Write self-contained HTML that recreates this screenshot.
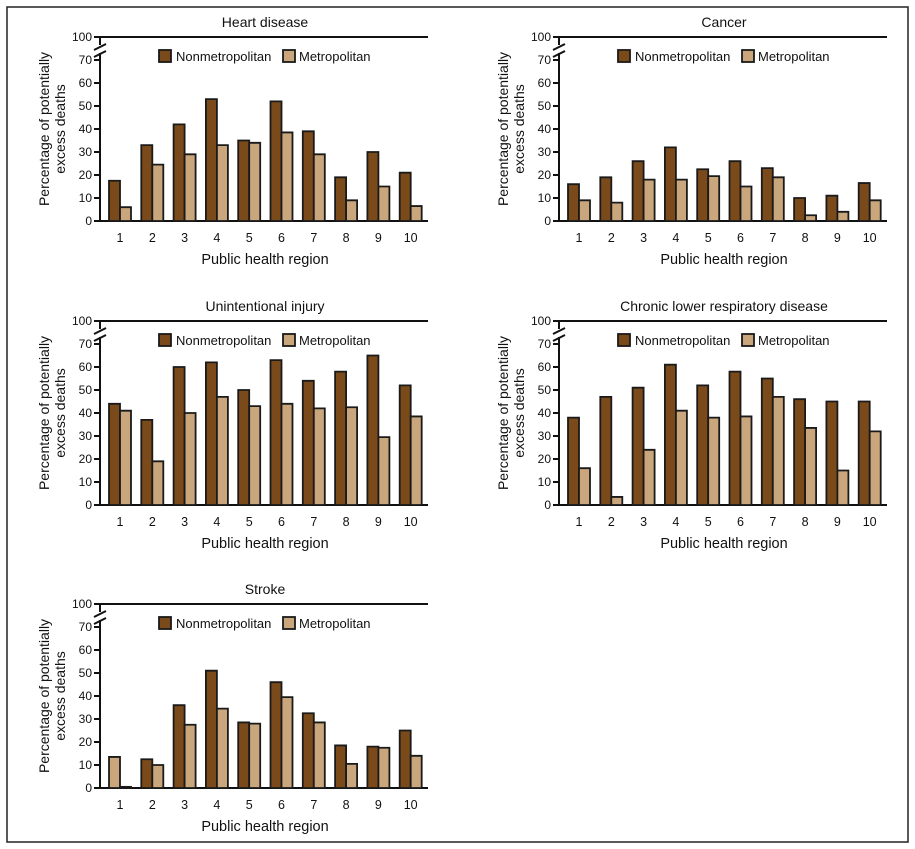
<!DOCTYPE html>
<html><head><meta charset="utf-8"><style>
html,body{margin:0;padding:0;background:#fff;}
svg{display:block;font-family:"Liberation Sans",sans-serif;}
.t{font-size:14px;fill:#111;text-anchor:middle;}
.xt{font-size:14.5px;fill:#111;text-anchor:middle;}
.yt{font-size:14px;fill:#111;text-anchor:middle;}
.tk{font-size:12px;fill:#111;text-anchor:end;}
.xl{font-size:12.5px;fill:#111;text-anchor:middle;}
.lg{font-size:13px;fill:#111;}
.ax{stroke:#111;stroke-width:2;fill:none;}
.n{fill:#7b4a1a;stroke:#1a1a1a;stroke-width:1.8;}
.m{fill:#c9a67c;stroke:#1a1a1a;stroke-width:1.8;}
</style></head><body>
<svg width="915" height="849" viewBox="0 0 915 849" xmlns="http://www.w3.org/2000/svg">
<defs>
<g id="frame">
<line class="ax" x1="100" y1="221" x2="100" y2="53"/>
<line class="ax" x1="100" y1="45" x2="100" y2="37"/>
<line class="ax" x1="94" y1="50" x2="106" y2="44" stroke-width="1.3"/>
<line class="ax" x1="94" y1="57" x2="106" y2="51" stroke-width="1.3"/>
<line class="ax" x1="99" y1="37" x2="428" y2="37"/>
<line class="ax" x1="99" y1="221" x2="428" y2="221"/>
<g class="ax">
<line x1="94" y1="221" x2="100" y2="221"/><line x1="94" y1="198" x2="100" y2="198"/><line x1="94" y1="175" x2="100" y2="175"/><line x1="94" y1="152" x2="100" y2="152"/><line x1="94" y1="129" x2="100" y2="129"/><line x1="94" y1="106" x2="100" y2="106"/><line x1="94" y1="83" x2="100" y2="83"/><line x1="94" y1="60" x2="100" y2="60"/><line x1="94" y1="37" x2="100" y2="37"/>
</g>
<text class="tk" x="92" y="225">0</text><text class="tk" x="92" y="202">10</text><text class="tk" x="92" y="179">20</text><text class="tk" x="92" y="156">30</text><text class="tk" x="92" y="133">40</text><text class="tk" x="92" y="110">50</text><text class="tk" x="92" y="87">60</text><text class="tk" x="92" y="64">70</text><text class="tk" x="92" y="41">100</text>
<text class="xl" x="120" y="242">1</text><text class="xl" x="152.3" y="242">2</text><text class="xl" x="184.6" y="242">3</text><text class="xl" x="216.9" y="242">4</text><text class="xl" x="249.2" y="242">5</text><text class="xl" x="281.5" y="242">6</text><text class="xl" x="313.8" y="242">7</text><text class="xl" x="346.1" y="242">8</text><text class="xl" x="378.4" y="242">9</text><text class="xl" x="410.7" y="242">10</text>
<text class="xt" x="265" y="264">Public health region</text>
<text class="yt" transform="translate(49,129) rotate(-90)">Percentage of potentially</text>
<text class="yt" transform="translate(65,129) rotate(-90)">excess deaths</text>
<rect class="n" x="159" y="50" width="12" height="12"/>
<text class="lg" x="176" y="61">Nonmetropolitan</text>
<rect class="m" x="283" y="50" width="12" height="12"/>
<text class="lg" x="299" y="61">Metropolitan</text>
</g>
</defs>

<rect x="7" y="7" width="901" height="835" fill="none" stroke="#222" stroke-width="1.5"/>

<g>
<use href="#frame"/>
<text class="t" x="265" y="27">Heart disease</text>
<g transform="translate(0,221) scale(1,-2.3)">
<rect class="n" vector-effect="non-scaling-stroke" x="109" y="0" width="11" height="17.5"/><rect class="m" vector-effect="non-scaling-stroke" x="120" y="0" width="11" height="6"/>
<rect class="n" vector-effect="non-scaling-stroke" x="141.3" y="0" width="11" height="33"/><rect class="m" vector-effect="non-scaling-stroke" x="152.3" y="0" width="11" height="24.5"/>
<rect class="n" vector-effect="non-scaling-stroke" x="173.6" y="0" width="11" height="42"/><rect class="m" vector-effect="non-scaling-stroke" x="184.6" y="0" width="11" height="29"/>
<rect class="n" vector-effect="non-scaling-stroke" x="205.9" y="0" width="11" height="53"/><rect class="m" vector-effect="non-scaling-stroke" x="216.9" y="0" width="11" height="33"/>
<rect class="n" vector-effect="non-scaling-stroke" x="238.2" y="0" width="11" height="35"/><rect class="m" vector-effect="non-scaling-stroke" x="249.2" y="0" width="11" height="34"/>
<rect class="n" vector-effect="non-scaling-stroke" x="270.5" y="0" width="11" height="52"/><rect class="m" vector-effect="non-scaling-stroke" x="281.5" y="0" width="11" height="38.5"/>
<rect class="n" vector-effect="non-scaling-stroke" x="302.8" y="0" width="11" height="39"/><rect class="m" vector-effect="non-scaling-stroke" x="313.8" y="0" width="11" height="29"/>
<rect class="n" vector-effect="non-scaling-stroke" x="335.1" y="0" width="11" height="19"/><rect class="m" vector-effect="non-scaling-stroke" x="346.1" y="0" width="11" height="9"/>
<rect class="n" vector-effect="non-scaling-stroke" x="367.4" y="0" width="11" height="30"/><rect class="m" vector-effect="non-scaling-stroke" x="378.4" y="0" width="11" height="15"/>
<rect class="n" vector-effect="non-scaling-stroke" x="399.7" y="0" width="11" height="21"/><rect class="m" vector-effect="non-scaling-stroke" x="410.7" y="0" width="11" height="6.5"/>
</g>
</g>

<g transform="translate(459,0)">
<use href="#frame"/>
<text class="t" x="265" y="27">Cancer</text>
<g transform="translate(0,221) scale(1,-2.3)">
<rect class="n" vector-effect="non-scaling-stroke" x="109" y="0" width="11" height="16"/><rect class="m" vector-effect="non-scaling-stroke" x="120" y="0" width="11" height="9"/>
<rect class="n" vector-effect="non-scaling-stroke" x="141.3" y="0" width="11" height="19"/><rect class="m" vector-effect="non-scaling-stroke" x="152.3" y="0" width="11" height="8"/>
<rect class="n" vector-effect="non-scaling-stroke" x="173.6" y="0" width="11" height="26"/><rect class="m" vector-effect="non-scaling-stroke" x="184.6" y="0" width="11" height="18"/>
<rect class="n" vector-effect="non-scaling-stroke" x="205.9" y="0" width="11" height="32"/><rect class="m" vector-effect="non-scaling-stroke" x="216.9" y="0" width="11" height="18"/>
<rect class="n" vector-effect="non-scaling-stroke" x="238.2" y="0" width="11" height="22.5"/><rect class="m" vector-effect="non-scaling-stroke" x="249.2" y="0" width="11" height="19.5"/>
<rect class="n" vector-effect="non-scaling-stroke" x="270.5" y="0" width="11" height="26"/><rect class="m" vector-effect="non-scaling-stroke" x="281.5" y="0" width="11" height="15"/>
<rect class="n" vector-effect="non-scaling-stroke" x="302.8" y="0" width="11" height="23"/><rect class="m" vector-effect="non-scaling-stroke" x="313.8" y="0" width="11" height="19"/>
<rect class="n" vector-effect="non-scaling-stroke" x="335.1" y="0" width="11" height="10"/><rect class="m" vector-effect="non-scaling-stroke" x="346.1" y="0" width="11" height="2.5"/>
<rect class="n" vector-effect="non-scaling-stroke" x="367.4" y="0" width="11" height="11"/><rect class="m" vector-effect="non-scaling-stroke" x="378.4" y="0" width="11" height="4"/>
<rect class="n" vector-effect="non-scaling-stroke" x="399.7" y="0" width="11" height="16.5"/><rect class="m" vector-effect="non-scaling-stroke" x="410.7" y="0" width="11" height="9"/>
</g>
</g>

<g transform="translate(0,284)">
<use href="#frame"/>
<text class="t" x="265" y="27">Unintentional injury</text>
<g transform="translate(0,221) scale(1,-2.3)">
<rect class="n" vector-effect="non-scaling-stroke" x="109" y="0" width="11" height="44"/><rect class="m" vector-effect="non-scaling-stroke" x="120" y="0" width="11" height="41"/>
<rect class="n" vector-effect="non-scaling-stroke" x="141.3" y="0" width="11" height="37"/><rect class="m" vector-effect="non-scaling-stroke" x="152.3" y="0" width="11" height="19"/>
<rect class="n" vector-effect="non-scaling-stroke" x="173.6" y="0" width="11" height="60"/><rect class="m" vector-effect="non-scaling-stroke" x="184.6" y="0" width="11" height="40"/>
<rect class="n" vector-effect="non-scaling-stroke" x="205.9" y="0" width="11" height="62"/><rect class="m" vector-effect="non-scaling-stroke" x="216.9" y="0" width="11" height="47"/>
<rect class="n" vector-effect="non-scaling-stroke" x="238.2" y="0" width="11" height="50"/><rect class="m" vector-effect="non-scaling-stroke" x="249.2" y="0" width="11" height="43"/>
<rect class="n" vector-effect="non-scaling-stroke" x="270.5" y="0" width="11" height="63"/><rect class="m" vector-effect="non-scaling-stroke" x="281.5" y="0" width="11" height="44"/>
<rect class="n" vector-effect="non-scaling-stroke" x="302.8" y="0" width="11" height="54"/><rect class="m" vector-effect="non-scaling-stroke" x="313.8" y="0" width="11" height="42"/>
<rect class="n" vector-effect="non-scaling-stroke" x="335.1" y="0" width="11" height="58"/><rect class="m" vector-effect="non-scaling-stroke" x="346.1" y="0" width="11" height="42.5"/>
<rect class="n" vector-effect="non-scaling-stroke" x="367.4" y="0" width="11" height="65"/><rect class="m" vector-effect="non-scaling-stroke" x="378.4" y="0" width="11" height="29.5"/>
<rect class="n" vector-effect="non-scaling-stroke" x="399.7" y="0" width="11" height="52"/><rect class="m" vector-effect="non-scaling-stroke" x="410.7" y="0" width="11" height="38.5"/>
</g>
</g>

<g transform="translate(459,284)">
<use href="#frame"/>
<text class="t" x="265" y="27">Chronic lower respiratory disease</text>
<g transform="translate(0,221) scale(1,-2.3)">
<rect class="n" vector-effect="non-scaling-stroke" x="109" y="0" width="11" height="38"/><rect class="m" vector-effect="non-scaling-stroke" x="120" y="0" width="11" height="16"/>
<rect class="n" vector-effect="non-scaling-stroke" x="141.3" y="0" width="11" height="47"/><rect class="m" vector-effect="non-scaling-stroke" x="152.3" y="0" width="11" height="3.5"/>
<rect class="n" vector-effect="non-scaling-stroke" x="173.6" y="0" width="11" height="51"/><rect class="m" vector-effect="non-scaling-stroke" x="184.6" y="0" width="11" height="24"/>
<rect class="n" vector-effect="non-scaling-stroke" x="205.9" y="0" width="11" height="61"/><rect class="m" vector-effect="non-scaling-stroke" x="216.9" y="0" width="11" height="41"/>
<rect class="n" vector-effect="non-scaling-stroke" x="238.2" y="0" width="11" height="52"/><rect class="m" vector-effect="non-scaling-stroke" x="249.2" y="0" width="11" height="38"/>
<rect class="n" vector-effect="non-scaling-stroke" x="270.5" y="0" width="11" height="58"/><rect class="m" vector-effect="non-scaling-stroke" x="281.5" y="0" width="11" height="38.5"/>
<rect class="n" vector-effect="non-scaling-stroke" x="302.8" y="0" width="11" height="55"/><rect class="m" vector-effect="non-scaling-stroke" x="313.8" y="0" width="11" height="47"/>
<rect class="n" vector-effect="non-scaling-stroke" x="335.1" y="0" width="11" height="46"/><rect class="m" vector-effect="non-scaling-stroke" x="346.1" y="0" width="11" height="33.5"/>
<rect class="n" vector-effect="non-scaling-stroke" x="367.4" y="0" width="11" height="45"/><rect class="m" vector-effect="non-scaling-stroke" x="378.4" y="0" width="11" height="15"/>
<rect class="n" vector-effect="non-scaling-stroke" x="399.7" y="0" width="11" height="45"/><rect class="m" vector-effect="non-scaling-stroke" x="410.7" y="0" width="11" height="32"/>
</g>
</g>

<g transform="translate(0,567)">
<use href="#frame"/>
<text class="t" x="265" y="27">Stroke</text>
<g transform="translate(0,221) scale(1,-2.3)">
<rect class="m" vector-effect="non-scaling-stroke" x="109" y="0" width="11" height="13.5"/><rect class="m" vector-effect="non-scaling-stroke" x="120" y="0" width="11" height="0.5"/>
<rect class="n" vector-effect="non-scaling-stroke" x="141.3" y="0" width="11" height="12.5"/><rect class="m" vector-effect="non-scaling-stroke" x="152.3" y="0" width="11" height="10"/>
<rect class="n" vector-effect="non-scaling-stroke" x="173.6" y="0" width="11" height="36"/><rect class="m" vector-effect="non-scaling-stroke" x="184.6" y="0" width="11" height="27.5"/>
<rect class="n" vector-effect="non-scaling-stroke" x="205.9" y="0" width="11" height="51"/><rect class="m" vector-effect="non-scaling-stroke" x="216.9" y="0" width="11" height="34.5"/>
<rect class="n" vector-effect="non-scaling-stroke" x="238.2" y="0" width="11" height="28.5"/><rect class="m" vector-effect="non-scaling-stroke" x="249.2" y="0" width="11" height="28"/>
<rect class="n" vector-effect="non-scaling-stroke" x="270.5" y="0" width="11" height="46"/><rect class="m" vector-effect="non-scaling-stroke" x="281.5" y="0" width="11" height="39.5"/>
<rect class="n" vector-effect="non-scaling-stroke" x="302.8" y="0" width="11" height="32.5"/><rect class="m" vector-effect="non-scaling-stroke" x="313.8" y="0" width="11" height="28.5"/>
<rect class="n" vector-effect="non-scaling-stroke" x="335.1" y="0" width="11" height="18.5"/><rect class="m" vector-effect="non-scaling-stroke" x="346.1" y="0" width="11" height="10.5"/>
<rect class="n" vector-effect="non-scaling-stroke" x="367.4" y="0" width="11" height="18"/><rect class="m" vector-effect="non-scaling-stroke" x="378.4" y="0" width="11" height="17.5"/>
<rect class="n" vector-effect="non-scaling-stroke" x="399.7" y="0" width="11" height="25"/><rect class="m" vector-effect="non-scaling-stroke" x="410.7" y="0" width="11" height="14"/>
</g>
</g>
</svg>
</body></html>
